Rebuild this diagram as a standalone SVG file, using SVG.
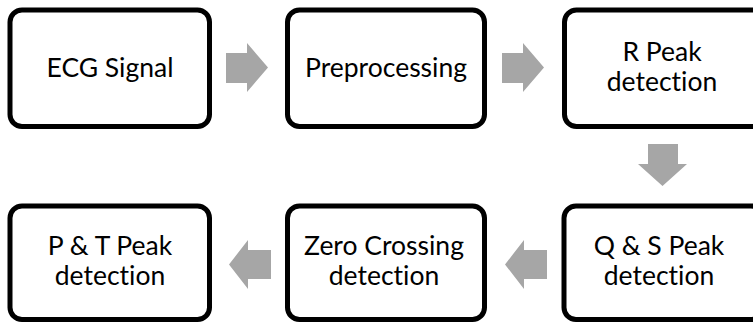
<svg xmlns="http://www.w3.org/2000/svg" width="753" height="324" viewBox="0 0 753 324">
<style>
.box{fill:#fff;stroke:#000;stroke-width:5}
.lbl{font-family:Lato,"Open Sans","DejaVu Sans",sans-serif;font-size:26.5px;fill:#000;text-anchor:middle;font-variant-ligatures:none}
.arr{fill:#a6a6a6}
</style>
<rect width="753" height="324" fill="#fff"/>
<g id="connectors">
<polygon class="arr" points="226,53 247,53 247,43 268,67.5 247,92 247,83 226,83"/>
<polygon class="arr" points="502,53 523,53 523,43 544,67.5 523,92 523,83 502,83"/>
<polygon class="arr" points="648,144 678,144 678,164 687,164 662.5,186 638,164 648,164"/>
<polygon class="arr" points="547,250 524,250 524,240 505,264.5 524,289 524,279 547,279"/>
<polygon class="arr" points="271,250 248,250 248,240 229,264.5 248,289 248,279 271,279"/>
</g>
<g id="node-ecg">
<rect class="box" x="10" y="10" width="199.5" height="116.5" rx="12"/>
<text class="lbl" x="110" y="77">ECG Signal</text>
</g>
<g id="node-preprocessing">
<rect class="box" x="287.5" y="10" width="197" height="116.5" rx="12"/>
<text class="lbl" x="386" y="77">Preprocessing</text>
</g>
<g id="node-rpeak">
<rect class="box" x="564.5" y="10" width="199" height="116.5" rx="12"/>
<text class="lbl" x="662" y="61">R Peak</text>
<text class="lbl" x="662" y="91">detection</text>
</g>
<g id="node-qspeak">
<rect class="box" x="564" y="206" width="199" height="113.5" rx="12"/>
<text class="lbl" x="659" y="255">Q &amp; S Peak</text>
<text class="lbl" x="659" y="285">detection</text>
</g>
<g id="node-zerocrossing">
<rect class="box" x="287.5" y="206" width="197" height="113.5" rx="12"/>
<text class="lbl" x="384" y="255">Zero Crossing</text>
<text class="lbl" x="384" y="285">detection</text>
</g>
<g id="node-ptpeak">
<rect class="box" x="10" y="206" width="199.5" height="113.5" rx="12"/>
<text class="lbl" x="110" y="255">P &amp; T Peak</text>
<text class="lbl" x="110" y="285">detection</text>
</g>
</svg>
